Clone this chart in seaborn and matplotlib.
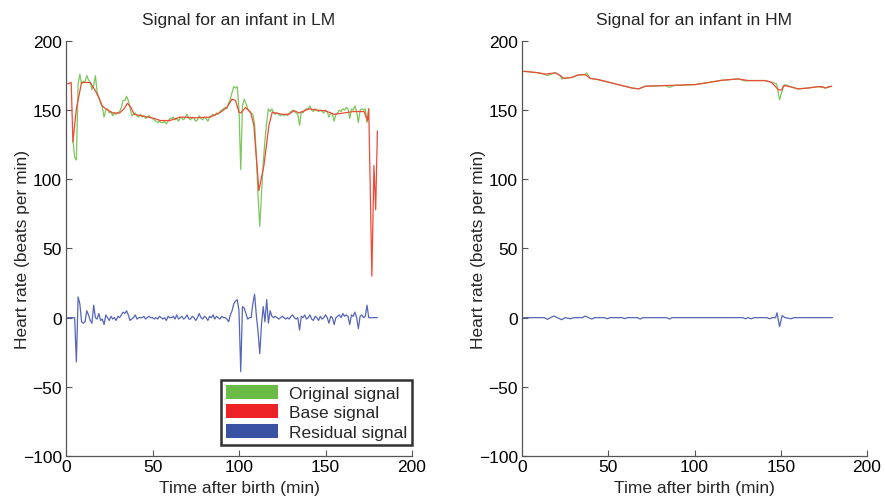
import matplotlib
matplotlib.use("Agg")
import matplotlib.pyplot as plt
from matplotlib.patches import Patch
import seaborn as sns
import pandas as pd

# ---------------- data ----------------
# Left panel (LM): base signal
lm_base_t = [1, 3, 4, 6, 9, 14, 17, 19, 21, 23, 27, 31, 33.6, 35.5, 37.5, 39.4, 45, 51,
             54.5, 60, 66, 75, 83.5, 89.3, 93, 96, 98, 100, 101, 103.8, 106.7, 108.6,
             111.5, 114.4, 117.3, 119.2, 125, 128.9, 131.8, 134.7, 140.5, 145, 150, 155,
             160.8, 166, 172.3, 174.3, 175, 176.8, 178, 179, 180]
lm_base_v = [169, 170, 127, 151, 170, 170, 164, 159, 153, 151, 148, 148, 151, 155, 152, 147, 145.6, 144,
             142.5, 142.5, 145, 144.5, 145, 148.5, 152, 158, 157, 148.5, 148, 152, 148.5, 139,
             91.8, 110, 139, 148.5, 147, 147, 149.7, 148, 151, 150, 149.5, 147,
             148, 149, 149, 142.5, 151, 30, 110, 78, 135]

# Left panel (LM): original signal, one value per minute from t=4 to t=175
lm_orig_start = 4
lm_orig_v = [129, 116, 114, 169, 176, 169, 171, 170, 175, 172, 170, 165, 168, 175, 163, 159,
             155, 152, 145, 150, 151, 148, 149, 146, 148, 147, 148, 149, 152, 157, 157, 160,
             157, 152, 146, 147, 148, 146, 145, 147, 145, 146, 144, 145, 146, 145, 144, 143,
             142, 141, 142, 141, 141, 142, 140, 142, 144, 144, 145, 143, 144, 142, 145, 144,
             143, 145, 147, 144, 143, 145, 144, 142, 143, 146, 144, 143, 145, 144, 142, 145,
             146, 147, 146, 148, 147, 149, 150, 151, 152, 151, 155, 158, 163, 167, 166, 167,
             150, 107, 153, 158, 155, 151, 149, 148, 147, 140, 118, 88, 66, 90, 112, 128,
             141, 151, 149, 151, 148, 147, 148, 147, 146, 147, 146, 147, 146, 148, 149, 150,
             149, 148, 147, 139, 149, 148, 150, 151, 151, 153, 150, 149, 151, 150, 149, 150,
             149, 148, 150, 149, 145, 148, 147, 142, 147, 148, 150, 149, 151, 150, 152, 151,
             144, 151, 150, 153, 149, 141, 150, 151, 150, 151, 141, 151]

# Left panel (LM): residual signal, one value per minute from t=1 to t=180
lm_res_start = 1
lm_res_v = [0, 0, 0, 0, 0, -32, 15, 10, -3, -4, -3, 5, 2, -2, -4, 9, 0, -1, 3, -2,
            -1, -5, 2, 0, -2, 1, -1, 0, -2, 1, 0, 2, 4, 3, 5, 2, -2, -1, 0, 2,
            -1, 0, 0, 0, 1, -1, 0, 1, 0, 0, -1, 0, -1, 1, 0, -1, 0, -2, 1, 0,
            0, 1, -1, 2, -1, 0, 1, -1, 0, 2, -1, -1, 1, 0, -2, 0, 3, 0, -1, 1,
            0, -2, 1, 0, 2, -1, 1, 0, -1, 1, 0, 0, -1, -3, 2, 5, 10, 12, 13, 5,
            -39, 8, 7, 3, -1, 0, 0, 10, 17, 2, -10, -26, -5, 8, -3, 13, -4, 5, 1, 0,
            1, 0, -1, 0, 1, 0, -1, 0, -1, 1, 2, 0, -1, 0, -9, 1, 0, 2, -1, 0,
            2, -1, -2, 1, 0, -2, 1, -1, 0, 2, 0, -4, 1, 0, -5, 0, 1, 2, 0, 3,
            1, 2, 1, -5, 2, 1, 4, 0, -8, 1, 2, 0, 1, 9, 0, 0, 0, 0, 0, 0]

# Right panel (HM)
hm_base_t = [1, 2, 9.6, 13.4, 19.3, 22.2, 24.2, 29, 32.6, 36.7, 39.5, 44.5, 50.3, 58, 63.8,
             67.6, 71.5, 83, 88.8, 100.4, 108.1, 115.8, 125.4, 131.2, 140.8, 144.6, 148.5,
             150.4, 151.8, 156, 160, 165.8, 171.6, 174, 176, 177, 179.5]
hm_base_v = [178, 178, 177, 176, 177, 175, 173, 173.7, 175.5, 175.7, 173, 172, 170.2, 167.8, 166,
             165.4, 167.3, 167.8, 168, 168.5, 170, 171.6, 172.6, 171.4, 171.4, 170.2, 164.9,
             164.5, 167.8, 166.8, 165.4, 166, 167, 167, 166, 166.5, 167.3]
hm_orig_t = [1, 2, 9.6, 13.4, 14.5, 19.3, 22.2, 23, 24.2, 29, 32.6, 36.7, 37.5, 39.5, 44.5, 50.3,
             58, 63.8, 67.6, 71.5, 83, 85.5, 88.8, 100.4, 108.1, 115.8, 125.4, 129.5, 131.2,
             140.8, 144.6, 147.6, 149.3, 151.3, 152.5, 156, 160, 165.8, 171.6, 174, 176, 177, 179.5]
hm_orig_v = [178, 178, 177, 176, 175, 177, 175, 172.5, 173, 173.7, 175.5, 175.7, 177, 173, 172, 170.2,
             167.8, 166, 165.4, 167.3, 167.8, 166.5, 168, 168.5, 170, 171.6, 172.6, 171, 171.4,
             171.4, 170.2, 169, 157.5, 166, 168.5, 166.8, 165.4, 166, 167, 166.5, 166, 166.5, 167.3]
hm_res_t = [1, 13, 14.7, 16.5, 18.5, 20.5, 23, 25, 28, 30, 35, 36.7, 38.5, 40.5, 42, 48, 49.5,
            51, 58, 59.5, 61, 67, 68.5, 70, 84, 85.5, 87, 128, 129.5, 131, 133, 134.5, 142,
            143.5, 145, 147, 147.8, 149.3, 150.8, 152.5, 156, 157.5, 180]
hm_res_v = [0, 0, -1.2, 0, 1.2, 0, -1.5, 0, -0.8, 0, 0, 1.2, 0, -1, 0, 0, -0.8,
            0, 0, -0.7, 0, 0, -1, 0, 0, -1, 0, 0, -0.8, 0, -0.8, 0, 0,
            -0.8, 0, 0, 3.5, -6.5, 1.5, 0, -0.8, 0, 0]

titles = ["Signal for an infant in LM", "Signal for an infant in HM"]
x_ticks = [0, 50, 100, 150, 200]
y_ticks = [-100, -50, 0, 50, 100, 150, 200]
y_tick_labels = ["\u2212100", "\u221250", "0", "50", "100", "150", "200"]
legend_labels = ["Original signal", "Base signal", "Residual signal"]

# ---------------- styling ----------------
sns.set_theme(style="ticks")
plt.rcParams["font.family"] = ["Liberation Sans", "DejaVu Sans"]
FS = 12.5

line_green = "#7cc65c"
line_red = "#ee4a35"
line_blue = "#5565b8"
leg_green = "#6bbb47"
leg_red = "#ec2227"
leg_blue = "#3a52a4"

fig = plt.figure(figsize=(8.85, 5.02), dpi=100)
ax1 = fig.add_axes([66 / 885, 1 - 457 / 502, 346 / 885, 415 / 502])
ax2 = fig.add_axes([522 / 885, 1 - 457 / 502, 345 / 885, 415 / 502])

lm_orig_t = list(range(lm_orig_start, lm_orig_start + len(lm_orig_v)))
lm_res_t = list(range(lm_res_start, lm_res_start + len(lm_res_v)))

panels = [
    (ax1, (lm_orig_t, lm_orig_v), (lm_base_t, lm_base_v), (lm_res_t, lm_res_v)),
    (ax2, (hm_orig_t, hm_orig_v), (hm_base_t, hm_base_v), (hm_res_t, hm_res_v)),
]

for i, (ax, orig, base, res) in enumerate(panels):
    for (tt, vv), col in [(orig, line_green), (base, line_red), (res, line_blue)]:
        df = pd.DataFrame({"t": tt, "v": vv})
        sns.lineplot(data=df, x="t", y="v", ax=ax, color=col, lw=0.9,
                     estimator=None, sort=False)
    ax.set_xlim(0, 200)
    ax.set_ylim(-100, 200)
    ax.set_xticks(x_ticks)
    ax.set_yticks(y_ticks)
    ax.set_yticklabels(y_tick_labels)
    ax.tick_params(direction="in", length=4, width=0.8, color="#555555",
                   labelsize=FS, labelcolor="black", pad=3)
    ax.tick_params(axis="x", pad=2)
    for s in ["top", "right"]:
        ax.spines[s].set_visible(False)
    for s in ["left", "bottom"]:
        ax.spines[s].set_color("#555555")
        ax.spines[s].set_linewidth(0.9)
    ax.set_title(titles[i], fontsize=FS, pad=12)
    ax.set_xlabel("Time after birth (min)", fontsize=FS)
    ax.set_ylabel("Heart rate (beats per min)", fontsize=FS)
    ax.xaxis.set_label_coords(0.5, -0.058)
    ax.yaxis.set_label_coords(-0.105, 0.5)

handles = [Patch(facecolor=leg_green, edgecolor="none"),
           Patch(facecolor=leg_red, edgecolor="none"),
           Patch(facecolor=leg_blue, edgecolor="none")]
leg = ax1.legend(handles, legend_labels, loc="lower right",
                 bbox_to_anchor=(1.0, 11 / 415), borderaxespad=0,
                 fontsize=FS, frameon=True, fancybox=False,
                 handlelength=3.0, handleheight=0.85, handletextpad=0.6,
                 labelspacing=0.2, borderpad=0.3)
leg.get_frame().set_edgecolor("black")
leg.get_frame().set_linewidth(1.8)

fig.savefig("out.png", dpi=100)
